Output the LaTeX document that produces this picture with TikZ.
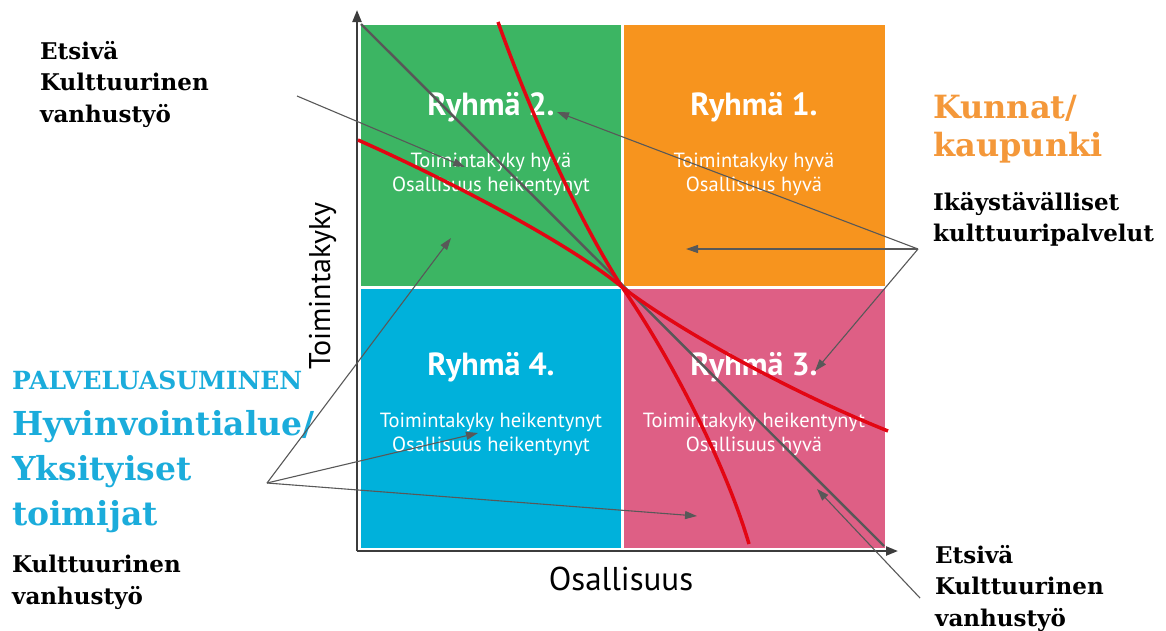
\documentclass[tikz,border=0pt]{standalone}
\usepackage{fontspec}
\setmainfont{DejaVu Serif}
\setsansfont{PT Sans}
\usetikzlibrary{arrows.meta}
\definecolor{vihrea}{RGB}{60,181,99}
\definecolor{oranssi}{RGB}{247,148,30}
\definecolor{sininen}{RGB}{0,177,219}
\definecolor{pinkki}{RGB}{222,95,133}
\definecolor{punainen}{RGB}{227,6,19}
\definecolor{harmaa}{RGB}{88,88,88}
\definecolor{akseli}{RGB}{60,60,60}
\definecolor{tekstisin}{RGB}{27,172,219}
\definecolor{tekstior}{RGB}{244,152,58}
\tikzstyle{kayra}=[punainen,line width=3.5pt]
\tikzstyle{osoitin}=[harmaa,line width=1.1pt,-{Triangle[length=12pt,width=8pt]}]
\tikzstyle{akselit}=[akseli,line width=2.2pt,-{Triangle[length=12pt,width=9pt]}]
\tikzstyle{otsikko}=[text=white,font=\sffamily\bfseries\fontsize{32}{32}\selectfont,anchor=base,inner sep=0pt]
\tikzstyle{kuvaus}=[text=white,font=\sffamily\fontsize{20.5}{24}\selectfont,align=center,anchor=north,inner sep=0pt]
\tikzstyle{teksti}=[font=\bfseries\fontsize{23}{31.5}\selectfont,align=left,anchor=north west,inner sep=0pt]

\begin{document}
\begin{tikzpicture}[x=1pt,y=-1pt]
\useasboundingbox (0,0) rectangle (1166,630);

% nelikentta
\fill[vihrea] (361,25) rectangle (621,286);
\fill[oranssi] (624,25) rectangle (885,286);
\fill[sininen] (361,289) rectangle (621,548);
\fill[pinkki] (624,289) rectangle (885,548);

\foreach \x/\y/\n in {491/115/2,754/115/1,491/375/4,754/375/3}
\node[otsikko] (r\n) at (\x,\y) {Ryhmä \n.};

\node[kuvaus] (k2) at (491,153) {Toimintakyky hyvä\\Osallisuus heikentynyt};
\node[kuvaus] (k1) at (754,153) {Toimintakyky hyvä\\Osallisuus hyvä};
\node[kuvaus] (k4) at (491,413) {Toimintakyky heikentynyt\\Osallisuus heikentynyt};
\node[kuvaus] (k3) at (754,413) {Toimintakyky heikentynyt\\Osallisuus hyvä};

% akselit
\coordinate (O) at (357,551);
\coordinate (ykarki) at (357,10);
\coordinate (xkarki) at (898,551);
\draw[akselit] (O) -- (ykarki);
\draw[akselit] (O) -- (xkarki);
\node[font=\sffamily\fontsize{30}{30}\selectfont,rotate=90,anchor=base] (ynimi) at (330,286) {Toimintakyky};
\node[font=\sffamily\fontsize{33}{33}\selectfont,anchor=base] (xnimi) at (621,590) {Osallisuus};

\coordinate (kulma1) at (361,24);
\coordinate (kulma2) at (884,546);
\draw[harmaa,line width=2.4pt] (kulma1) -- (kulma2);

\draw[kayra] (498,22) .. controls (530,112) and (577,217) .. (622,287) .. controls (667,352) and (724,459) .. (749,544);
\draw[kayra] (358,140) .. controls (448,180) and (567,242) .. (622,287) .. controls (677,329) and (788,391) .. (888,431);

% tekstit
\node[teksti] (etsiva1) at (40,41) {Etsivä\\Kulttuurinen\\vanhustyö};
\node[teksti,text=tekstior,font=\bfseries\fontsize{32}{38}\selectfont] (kunnat) at (933,95) {Kunnat/\\kaupunki};
\node[teksti] (ika) at (933,192) {Ikäystävälliset\\kulttuuripalvelut};
\node[teksti,text=tekstisin,font=\bfseries\fontsize{25}{25}\selectfont] (palvelu) at (12,371) {PALVELUASUMINEN};
\node[teksti,text=tekstisin,font=\bfseries\fontsize{33}{45}\selectfont] (hyvin) at (12,410) {Hyvinvointialue/\\Yksityiset\\toimijat};
\node[teksti] (kult) at (12,555) {Kulttuurinen\\vanhustyö};
\node[teksti] (etsiva2) at (935,545) {Etsivä\\Kulttuurinen\\vanhustyö};

% osoittimet
\coordinate (vO) at (918,249);
\coordinate (vV) at (267,483);
\coordinate (pR2) at (557,112);
\coordinate (pR1) at (686,249);
\coordinate (pR3) at (815,371);
\coordinate (pV2) at (451,238);
\coordinate (pV4) at (478,433);
\coordinate (pV3) at (697,516);
\coordinate (aY) at (297,96);
\coordinate (pY) at (465,167);
\coordinate (aA) at (920,598);
\coordinate (pA) at (817,489);

\foreach \p in {pR2,pR1,pR3}
\draw[osoitin] (vO) -- (\p);
\foreach \p in {pV2,pV4,pV3}
\draw[osoitin] (vV) -- (\p);
\draw[osoitin] (aY) -- (pY);
\draw[osoitin] (aA) -- (pA);

\end{tikzpicture}
\end{document}
